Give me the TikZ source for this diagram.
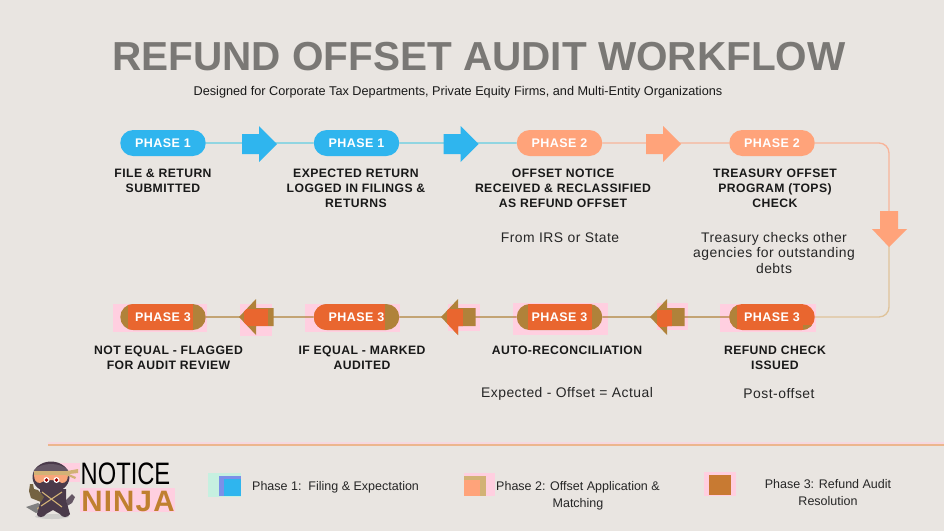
\documentclass[tikz,border=0pt]{standalone}
\usepackage{fontspec}
\setmainfont{Liberation Sans}
\newfontfamily\lblfont[LetterSpace=3.5]{Liberation Sans}
\newfontfamily\subfont[LetterSpace=3.5]{Liberation Sans}
\usetikzlibrary{shapes.misc}
\definecolor{bgc}{HTML}{E9E5E1}
\definecolor{titlec}{HTML}{7A7875}
\definecolor{blu}{HTML}{2FB5EE}
\definecolor{blul}{HTML}{62CDE2}
\definecolor{ora}{HTML}{FFA37A}
\definecolor{oral}{HTML}{F8B49A}
\definecolor{tanl}{HTML}{DFC39A}
\definecolor{red3}{HTML}{E9662F}
\definecolor{oli}{HTML}{B0823A}
\definecolor{pnk}{HTML}{FFCFE0}
\definecolor{mint}{HTML}{C6F0E0}
\definecolor{viol}{HTML}{7C90E8}
\definecolor{tan2}{HTML}{D2B276}
\definecolor{bro}{HTML}{C87A32}
\definecolor{nin}{HTML}{C0802F}
\definecolor{dk}{HTML}{4A3A4A}
\tikzset{
  x=1pt,y=-1pt,
  pillbase/.style={rounded rectangle,minimum width=85.5pt,minimum height=26pt,inner sep=0pt,text=white,font=\fontsize{12.5}{15}\selectfont\bfseries\lblfont},
  headtext/.style={align=center,inner sep=0pt,text=black!90,font=\fontsize{12.2}{15}\selectfont\bfseries\lblfont},
  subtext/.style={align=center,inner sep=0pt,text=black!85,font=\fontsize{13.9}{15.5}\selectfont\subfont},
  legtext/.style={align=center,inner sep=0pt,text=black!85,font=\fontsize{12.5}{17}\selectfont},
  link/.style={line width=1.35pt},
}
\newcommand{\rarrow}[3]{\fill[#3] (#1-35,#2-10) -- (#1-18,#2-10) -- (#1-18,#2-18) -- (#1,#2) -- (#1-18,#2+18) -- (#1-18,#2+10) -- (#1-35,#2+10) -- cycle;}
\newcommand{\larrowpath}[2]{(#1,#2) -- (#1+17,#2-18) -- (#1+17,#2-9) -- (#1+34.5,#2-9) -- (#1+34.5,#2+9) -- (#1+17,#2+9) -- (#1+17,#2+18) -- cycle}
\newcommand{\larrow}[6]{%
  \fill[oli] \larrowpath{#1}{#2};
  \begin{scope}\clip \larrowpath{#1}{#2};\fill[red3] (#3,#5) rectangle (#4,#6);\end{scope}}
\begin{document}
\begin{tikzpicture}
\useasboundingbox (0,0) rectangle (944,531);
\fill[bgc] (0,0) rectangle (944,531);

\node[inner sep=0pt,text=titlec,font=\fontsize{40.5}{44}\selectfont\bfseries] (title) at (479,57) {REFUND OFFSET AUDIT WORKFLOW};
\node[inner sep=0pt,text=black!90,font=\fontsize{12.7}{15}\selectfont] (subtitle) at (458,92) {Designed for Corporate Tax Departments, Private Equity Firms, and Multi-Entity Organizations};

\foreach \a/\b/\c/\d in {113/304/207/332,305/304/400/332,513/303/608/335,720/304/816/332,240/304/272/336,448/304/480/331,657/303/688/330}
  \fill[pnk] (\a,\b) rectangle (\c,\d);

\node[pillbase,fill=blu] (p1) at (163,143) {PHASE 1};
\node[pillbase,fill=blu] (p2) at (356.5,143) {PHASE 1};
\node[pillbase,fill=ora] (p3) at (559.5,143) {PHASE 2};
\node[pillbase,fill=ora] (p4) at (772,143) {PHASE 2};
\node[pillbase,fill=oli,path picture={\fill[red3] ([xshift=8pt]path picture bounding box.south west) rectangle ([xshift=-13pt]path picture bounding box.north east);}] (q1) at (163,317) {PHASE 3};
\node[pillbase,fill=oli,path picture={\fill[red3] (path picture bounding box.south west) rectangle ([xshift=-14pt]path picture bounding box.north east);}] (q2) at (356.5,317) {PHASE 3};
\node[pillbase,fill=oli,path picture={\fill[red3] ([xshift=11pt]path picture bounding box.south west) rectangle ([xshift=-10pt]path picture bounding box.north east);}] (q3) at (559.5,317) {PHASE 3};
\node[pillbase,fill=red3,path picture={\fill[oli] (path picture bounding box.south west) rectangle ([xshift=8pt]path picture bounding box.north west);\fill[oli] ([xshift=-12pt,yshift=5pt]path picture bounding box.south east) rectangle (path picture bounding box.south east);}] (q4) at (772,317) {PHASE 3};

\draw[link,blul] (p1) -- (p2);
\draw[link,blul] (p2) -- (p3);
\draw[link,oral] (p3) -- (p4);
\draw[link,oli] (q4) -- (q3);
\draw[link,oli] (q3) -- (q2);
\draw[link,oli] (q2) -- (q1);
\coordinate (tr) at (889,143);
\coordinate (mid) at (889,245);
\coordinate (br) at (889,317);
\draw[link,oral,rounded corners=10pt] (p4) -- (tr) -- (mid);
\draw[link,tanl,rounded corners=10pt] (mid) -- (br) -- (q4);

\rarrow{277}{144}{blu}
\rarrow{478.5}{144}{blu}
\rarrow{681}{144}{ora}
\fill[ora] (880,211) -- (898,211) -- (898,229) -- (907,229) -- (889,247) -- (872,229) -- (880,229) -- cycle;
\larrow{239}{317}{244}{268}{309}{326}
\larrow{441}{317}{447}{463}{309}{336}
\larrow{650}{317}{657}{672}{310}{327}

\node[headtext] (t1) at (163,181) {FILE \& RETURN\\SUBMITTED};
\node[headtext] (t2) at (356,188.5) {EXPECTED RETURN\\LOGGED IN FILINGS \&\\RETURNS};
\node[headtext] (t3) at (563,188.5) {OFFSET NOTICE\\RECEIVED \& RECLASSIFIED\\AS REFUND OFFSET};
\node[headtext] (t4) at (775,188.5) {TREASURY OFFSET\\PROGRAM (TOPS)\\CHECK};
\node[subtext] (s3) at (560,237.5) {From IRS or State};
\node[subtext] (s4) at (774,253) {Treasury checks other\\agencies for outstanding\\debts};
\node[headtext] (b1) at (168.5,358) {NOT EQUAL - FLAGGED\\FOR AUDIT REVIEW};
\node[headtext] (b2) at (362,358) {IF EQUAL - MARKED\\AUDITED};
\node[headtext] (b3) at (567,350.5) {AUTO-RECONCILIATION};
\node[headtext] (b4) at (775,358) {REFUND CHECK\\ISSUED};
\node[subtext] (c3) at (567,394) {Expected - Offset = Actual};
\node[subtext] (c4) at (779,394) {Post-offset};

\fill[pnk!60!bgc] (48,441.5) rectangle (944,445);
\coordinate (sepL) at (48,445);
\coordinate (sepR) at (944,445);
\draw[line width=1.2pt,color=tanl!60!ora] (sepL) -- (sepR);

\fill[mint] (208,473) rectangle (241,497);
\fill[viol] (219,476) rectangle (241,496);
\fill[blu] (224,479) rectangle (241,496);
\node[legtext,anchor=west] (l1) at (252,487) {Phase 1:\ \ Filing \& Expectation};
\fill[pnk] (464,473) rectangle (495,496);
\fill[tan2] (464,476) rectangle (486,496);
\fill[ora] (464,480) rectangle (480,496);
\node[legtext] (l2) at (578,495.5) {Phase 2: Offset Application \&\\Matching};
\fill[pnk] (704,472) rectangle (736,496);
\fill[bro] (708.5,474.5) rectangle (730.5,495);
\node[legtext] (l3) at (828,493) {Phase 3: Refund Audit\\Resolution};

\fill[pnk] (80,488) rectangle (175,512);
\node[inner sep=0pt,anchor=center,text=black,xscale=.765,font=\fontsize{31}{32}\selectfont] (notice) at (125.5,474) {NOTICE};
\node[inner sep=0pt,anchor=center,text=nin,font=\fontsize{29.5}{31}\selectfont\bfseries\addfontfeatures{LetterSpace=4}] (ninja) at (128,501) {NINJA};

\fill[pnk] (53,463) rectangle (80,482);
\fill[black!25,opacity=.6] (52,516.5) ellipse (17 and 2.5);
\fill[black!50] (26,507) -- (38,503) -- (46,509) -- (36,513) -- cycle;
\fill[tan2] (37,508) -- (62,495) -- (63,496.5) -- (38,510) -- cycle;
\fill[dk!85] (66,500) -- (72,494) -- (75,497) -- (72,503) -- (67,506) -- cycle;
\fill[dk] (40,489) -- (66,489) -- (66,500) -- (70,514) .. controls (68,518) and (62,518) .. (60,514) -- (53,510) -- (46,514) .. controls (44,518) and (37,518) .. (37,514) -- (41,500) -- cycle;
\fill[black!45!tan2] (29,491) -- (30,484) -- (33,484) -- (34,489) -- (38,490) -- (44,497) -- (41,502) -- (31,498) -- cycle;
\draw[tan2,line width=1.1pt] (42,492) -- (62,507);
\draw[tan2,line width=1.1pt] (62,492) -- (41,506);
\fill[dk] (51,477) ellipse (18.5 and 15.5);
\fill[dk!85!white] (33.5,474) -- (68.5,474) -- (68,470) .. controls (60,462) and (42,462) .. (34,470) -- cycle;
\fill[ora!85!tan2] (34,474) -- (68,474) .. controls (68,480) and (66,483) .. (62,483) .. controls (55,479) and (47,479) .. (40,483) .. controls (36,483) and (34,480) .. (34,474) -- cycle;
\fill[tan2] (34,471) -- (68,471) -- (68,474.5) -- (34,474.5) -- cycle;
\fill[tan2] (67,471) -- (78,469) -- (78,473) -- (69,474) -- (76,477) -- (75,479) -- (66,475) -- cycle;
\fill[white] (46.5,480) circle (3);\fill[white] (56.5,480) circle (3);
\fill[red!60!black] (46.5,480) circle (1.9);\fill[red!60!black] (56.5,480) circle (1.9);
\end{tikzpicture}
\end{document}
